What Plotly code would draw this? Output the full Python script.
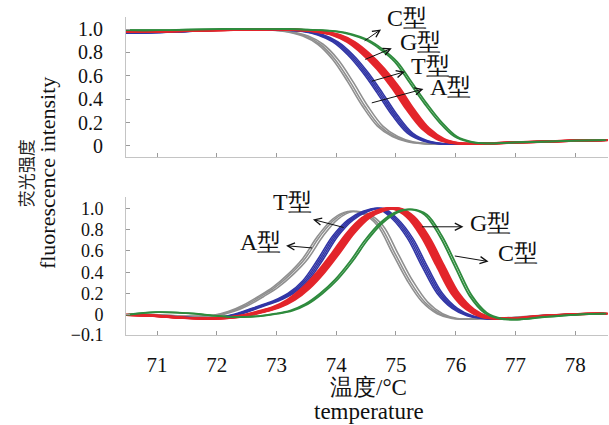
import plotly.graph_objects as go
from plotly.subplots import make_subplots

# ---------------- data ----------------
temp_top = [70.5, 71.0, 71.5, 72.0, 72.5, 73.0, 73.25, 73.5, 73.75, 74.0, 74.25, 74.5,
            74.75, 75.0, 75.25, 75.5, 75.75, 76.0, 76.25, 76.5, 77.0, 77.5, 78.0, 78.5]
melt_A = [0.975, 0.98, 0.985, 0.99, 0.995, 0.99, 0.975, 0.94, 0.87, 0.74, 0.55, 0.34,
          0.17, 0.08, 0.035, 0.02, 0.015, 0.015, 0.018, 0.02, 0.03, 0.037, 0.045, 0.05]
melt_T = [0.965, 0.97, 0.98, 0.99, 0.995, 0.995, 0.99, 0.98, 0.95, 0.89, 0.78, 0.63,
          0.45, 0.26, 0.11, 0.045, 0.02, 0.015, 0.018, 0.02, 0.03, 0.037, 0.045, 0.05]
melt_G = [0.975, 0.98, 0.985, 0.99, 0.995, 1.0, 0.995, 0.99, 0.975, 0.95, 0.89, 0.79,
          0.66, 0.5, 0.31, 0.15, 0.06, 0.025, 0.018, 0.02, 0.03, 0.037, 0.045, 0.05]
melt_C = [0.99, 0.99, 0.995, 1.0, 1.0, 1.0, 1.0, 0.995, 0.99, 0.98, 0.955, 0.91,
          0.83, 0.72, 0.54, 0.36, 0.2, 0.08, 0.035, 0.022, 0.03, 0.037, 0.045, 0.05]

temp_bottom = [70.5, 71.0, 71.5, 72.0, 72.25, 72.5, 72.75, 73.0, 73.25, 73.5, 73.75, 74.0,
               74.25, 74.5, 74.75, 75.0, 75.25, 75.5, 75.75, 76.0, 76.25, 76.5, 76.75,
               77.0, 77.5, 78.0, 78.5]
deriv_A = [0.0, 0.0, -0.015, -0.005, 0.03, 0.09, 0.17, 0.26, 0.38, 0.53, 0.74, 0.9,
           0.97, 0.95, 0.84, 0.58, 0.32, 0.12, 0.01, -0.035, -0.04, -0.035, -0.03,
           -0.025, -0.005, 0.005, 0.01]
deriv_T = [0.0, -0.01, -0.025, -0.03, -0.01, 0.03, 0.08, 0.13, 0.2, 0.32, 0.52, 0.74,
           0.89, 0.97, 1.0, 0.9, 0.72, 0.45, 0.2, 0.06, -0.01, -0.035, -0.04,
           -0.035, -0.01, 0.005, 0.01]
deriv_G = [0.0, -0.01, -0.03, -0.035, -0.025, -0.005, 0.03, 0.07, 0.14, 0.25, 0.4, 0.58,
           0.77, 0.91, 0.98, 1.0, 0.92, 0.73, 0.46, 0.2, 0.05, -0.02, -0.035,
           -0.035, -0.01, 0.005, 0.01]
deriv_C = [0.0, 0.025, 0.015, -0.01, -0.02, -0.02, -0.01, 0.01, 0.04, 0.1, 0.2, 0.33,
           0.5, 0.7, 0.86, 0.96, 0.99, 0.94, 0.74, 0.46, 0.18, 0.02, -0.035,
           -0.045, -0.02, 0.0, 0.01]

# replicate spread (temperature offsets of replicate runs, read from bundle widths)
rep_A = [-0.06, -0.02, 0.03]
rep_T = [-0.06, -0.03, 0.0, 0.03]
rep_G = [-0.07, -0.045, -0.02, 0.005, 0.03, 0.055]
rep_C = [-0.02, 0.02]

x_ticks = [71, 72, 73, 74, 75, 76, 77, 78]
top_ticks = [0, 0.2, 0.4, 0.6, 0.8, 1.0]
top_labels = ["0", "0.2", "0.4", "0.6", "0.8", "1.0"]
# the reference places its "−0.1" label at the very bottom of the lower axis
bot_ticks = [-0.19, 0, 0.2, 0.4, 0.6, 0.8, 1.0]
bot_labels = ["−0.1", "0", "0.2", "0.4", "0.6", "0.8", "1.0"]

# ---------------- styles ----------------
colors = {"A": "#8f8f8f", "T": "#3236a6", "G": "#e3252b", "C": "#2e8b3d"}
widths = {"A": 1.6, "T": 1.6, "G": 2.2, "C": 1.8}
SERIF = "Liberation Serif"

fig = make_subplots(rows=2, cols=1, shared_xaxes=False)

groups = [
    ("A", melt_A, deriv_A, rep_A),
    ("T", melt_T, deriv_T, rep_T),
    ("G", melt_G, deriv_G, rep_G),
    ("C", melt_C, deriv_C, rep_C),
]
for key, melt, deriv, reps in groups:
    for s in reps:
        fig.add_trace(go.Scatter(
            x=[t + s for t in temp_top], y=melt, mode="lines",
            line=dict(color=colors[key], width=widths[key], shape="spline", smoothing=1.0),
            showlegend=False, hoverinfo="skip"), row=1, col=1)
        fig.add_trace(go.Scatter(
            x=[t + s for t in temp_bottom], y=deriv, mode="lines",
            line=dict(color=colors[key], width=widths[key], shape="spline", smoothing=1.0),
            showlegend=False, hoverinfo="skip"), row=2, col=1)

axis_common = dict(
    showline=True, linecolor="#c4c4c4", linewidth=1, mirror=False,
    ticks="inside", ticklen=4, tickcolor="#9a9a9a", tickwidth=1,
    showgrid=False, zeroline=False, automargin=False,
    tickfont=dict(family=SERIF, size=21, color="#111"),
)

fig.update_xaxes(range=[70.48, 78.55], tickvals=x_ticks, **axis_common)
fig.update_xaxes(showticklabels=False, row=1, col=1)
fig.update_xaxes(ticklabelstandoff=11, row=2, col=1)
fig.update_yaxes(**axis_common)
fig.update_yaxes(range=[-0.094, 1.103], tickvals=top_ticks, ticktext=top_labels,
                 ticklabelstandoff=18, tickfont=dict(family=SERIF, size=20, color="#111"),
                 row=1, col=1)
fig.update_yaxes(range=[-0.19, 1.104], tickvals=bot_ticks, ticktext=bot_labels,
                 ticklabelstandoff=18, tickfont=dict(family=SERIF, size=18, color="#111"),
                 row=2, col=1)

fig.update_layout(
    width=609, height=425,
    margin=dict(l=126, r=1, t=17, b=90),
    paper_bgcolor="white", plot_bgcolor="white",
    xaxis=dict(domain=[0, 1]), xaxis2=dict(domain=[0, 1]),
    yaxis=dict(domain=[0.56, 1.0]), yaxis2=dict(domain=[0.0, 0.433]),
)

ann_font = dict(family=SERIF, size=24, color="#111")
# labels: (text, text position, arrow tail, arrow head)
top_ann = [
    ("C型", (75.19, 1.094), (74.45, 0.891), (74.75, 0.997)),
    ("G型", (75.41, 0.889), (74.46, 0.735), (74.93, 0.835)),
    ("T型", (75.57, 0.684), (74.57, 0.55), (75.15, 0.635)),
    ("A型", (75.92, 0.504), (74.57, 0.365), (75.46, 0.487)),
]
bot_ann = [
    ("T型", (73.26, 1.057), (74.15, 0.817), (73.61, 0.896)),
    ("A型", (72.73, 0.687), (73.62, 0.627), (73.16, 0.649)),
    ("G型", (76.58, 0.867), (75.41, 0.827), (76.13, 0.827)),
    ("C型", (77.05, 0.583), (75.96, 0.555), (76.55, 0.50)),
]
for anns, xr, yr in [(top_ann, "x", "y"), (bot_ann, "x2", "y2")]:
    for text, (tx, ty), (ax_, ay_), (hx, hy) in anns:
        fig.add_annotation(x=tx, y=ty, xref=xr, yref=yr, text=text, showarrow=False,
                           font=ann_font, xanchor="center", yanchor="middle")
        fig.add_annotation(x=hx, y=hy, xref=xr, yref=yr, ax=ax_, ay=ay_,
                           axref=xr, ayref=yr, text="", showarrow=True,
                           arrowhead=5, arrowsize=1.4, arrowwidth=1, arrowcolor="#111")

# axis titles
fig.add_annotation(x=-0.2095, y=0.509, xref="paper", yref="paper", text="荧光强度",
                   textangle=-90, showarrow=False, xanchor="center", yanchor="middle",
                   font=dict(family="Noto Sans CJK SC", size=17, color="#222"))
fig.add_annotation(x=-0.164, y=0.509, xref="paper", yref="paper", text="fluorescence intensity",
                   textangle=-90, showarrow=False, xanchor="center", yanchor="middle",
                   font=dict(family=SERIF, size=22, color="#111"))
fig.add_annotation(x=0.504, y=-0.166, xref="paper", yref="paper", text="温度/°C",
                   showarrow=False, xanchor="center", yanchor="middle",
                   font=dict(family=SERIF, size=23, color="#111"))
fig.add_annotation(x=0.504, y=-0.242, xref="paper", yref="paper", text="temperature",
                   showarrow=False, xanchor="center", yanchor="middle",
                   font=dict(family=SERIF, size=23, color="#111"))

fig.write_html("out.html", config={"displayModeBar": False},
               post_script="document.body.style.margin='0';document.body.style.padding='0';")
